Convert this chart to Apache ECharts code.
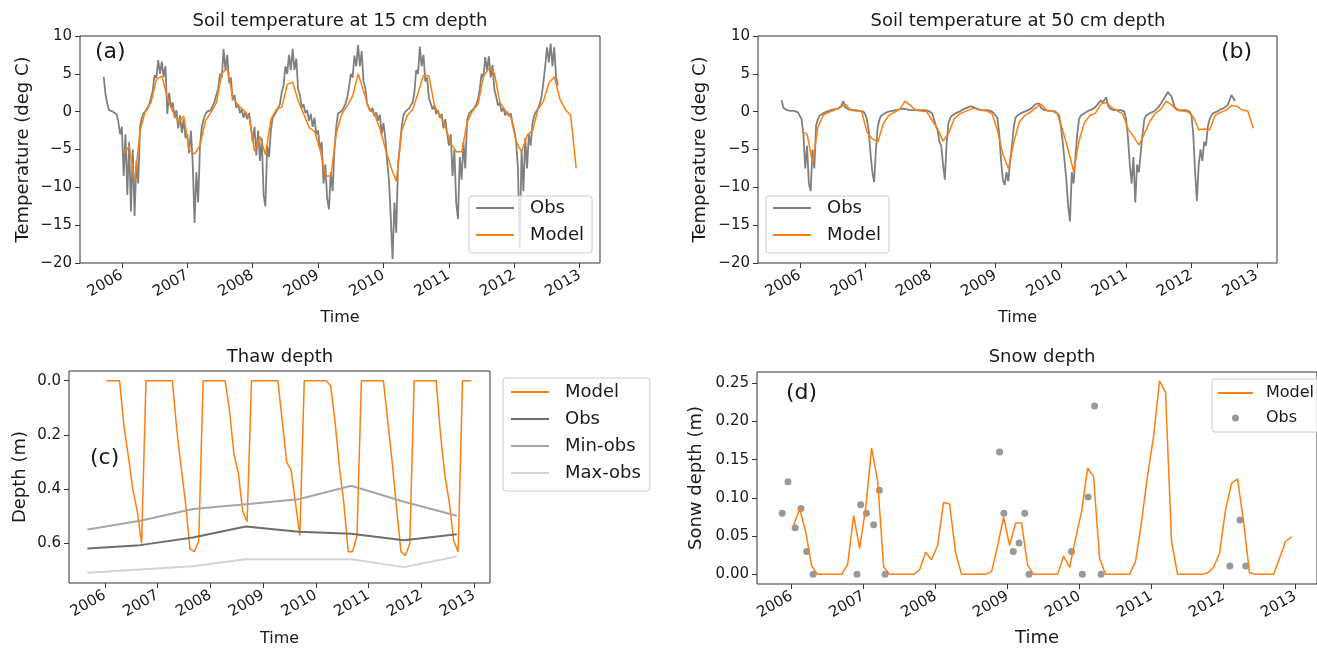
<!DOCTYPE html>
<html>
<head>
<meta charset="utf-8">
<title>Soil temperature, thaw depth and snow depth</title>
<script src="https://cdn.jsdelivr.net/npm/echarts@6.0.0/dist/echarts.min.js"></script>
<style>
  html, body { margin: 0; padding: 0; background: #fff; }
  #chart { width: 1317px; height: 648px; }
</style>
</head>
<body>
<div id="chart"></div>
<script>
// observed soil temperature: one value every 1/36 year (~10 days), first one at 2005 + 26/36
const OBS_START = 2005 + 26 / 36;
const OBS_STEP = 1 / 36;

const obs15 = [
  4.6, 2.3, 1.0, 0.2, 0.1, 0.0, 0.0, -0.3, -1.2, -3.0,
  -2.0, -8.5, -3.0, -11.0, -4.0, -13.2, -5.0, -13.8, -6.5, -9.5, -2.0, -0.8, -0.2, 0.0, 0.3, 0.9, 1.8,
  2.8, 4.8, 4.5, 6.8, 5.0, 6.6, 4.6, 6.0, -0.3, 2.5, 0.5, 1.2, -0.8, 0.2, -2.2, -0.5, -2.8, -1.0, -3.5,
  -3.0, -5.5, -2.5, -6.8, -14.7, -8.0, -12.0, -4.5, -2.0, -1.0, -0.3, 0.0, 0.0, 0.2, 0.8, 1.3, 2.2,
  3.0, 5.0, 4.5, 8.3, 5.5, 7.5, 3.8, 4.5, 1.5, 2.2, 0.5, 1.0, -0.2, 0.3, -0.8, 0.0, -1.0, -0.2, -2.0,
  -4.0, -2.0, -5.8, -2.5, -6.5, -3.5, -11.0, -12.5, -4.5, -6.0, -2.5, -0.8, -0.4, 0.0, 0.1, 1.0, 2.6,
  3.5, 6.0, 5.0, 7.5, 5.5, 8.3, 5.5, 7.0, 3.0, 2.2, 0.5, 1.0, -0.2, 0.2, -1.2, -0.3, -2.0, -0.8, -3.0,
  -2.5, -5.0, -4.0, -9.5, -7.0, -11.5, -12.9, -8.0, -10.5, -5.0, -2.0, -0.2, 0.0, 0.1, 0.5, 1.0, 1.8,
  3.2, 5.0, 4.5, 7.4, 6.0, 8.8, 6.0, 8.0, 4.0, 3.2, 1.0, 1.2, 0.0, 0.5, -0.6, -0.1, -1.2, -0.4, -3.0,
  -1.5, -3.5, -6.5, -9.0, -14.0, -19.5, -12.0, -16.0, -7.0, -4.5, -2.0, -0.4, 0.0, 0.2, 0.4, 0.6, 1.2,
  2.5, 5.5, 5.0, 8.6, 6.0, 7.5, 4.0, 4.5, 1.8, 2.0, 0.3, 0.8, -0.3, 0.2, -0.8, -0.3, -2.2, -1.0, -2.8,
  -4.5, -3.0, -8.5, -5.0, -12.0, -14.2, -6.0, -9.0, -4.0, -7.5, -1.2, -0.3, 0.0, 0.1, 0.5, 1.0, 1.6,
  3.0, 5.0, 4.5, 7.2, 5.5, 7.3, 4.5, 6.2, 3.0, 2.0, 0.8, 1.2, 0.0, 0.5, -0.5, 0.0, -0.6, -0.2, -1.5,
  -2.5, -4.0, -7.5, -18.0, -5.0, -10.5, -3.5, -7.5, -3.0, -4.5, -1.5, -0.5, 0.0, 0.4, 1.0, 2.0, 3.8,
  6.0, 8.5, 6.5, 9.0, 6.0, 8.5, 4.5, 3.5
];

const obs50 = [
  1.5, 0.5, 0.3, 0.2, 0.1, 0.1, 0.1, 0.1, 0.0, -0.1,
  -0.2, -1.0, -3.0, -7.5, -4.5, -9.5, -10.5, -5.0, -7.5, -1.8, -1.0, -0.5, -0.3, -0.2, -0.1, 0.0, 0.1, 0.2,
  0.2, 0.3, 0.3, 0.4, 0.5, 0.8, 1.4, 0.6, 0.5, 0.3, 0.2, 0.2, 0.2, 0.2, 0.2, 0.1, 0.1, 0.0,
  -0.3, -1.0, -2.5, -5.5, -8.0, -9.3, -5.0, -2.0, -1.0, -0.5, -0.3, -0.2, -0.1, 0.0, 0.0, 0.1, 0.1, 0.2,
  0.2, 0.3, 0.3, 0.4, 0.3, 0.3, 0.2, 0.2, 0.2, 0.2, 0.2, 0.2, 0.2, 0.2, 0.2, 0.2, 0.1, 0.1,
  0.0, -0.2, -1.0, -1.8, -2.5, -4.0, -4.5, -7.0, -9.0, -4.0, -1.5, -0.8, -0.5, -0.3, -0.2, -0.1, 0.0, 0.2,
  0.3, 0.4, 0.5, 0.6, 0.7, 0.8, 0.6, 0.4, 0.3, 0.3, 0.2, 0.2, 0.2, 0.2, 0.2, 0.1, 0.0, -0.2,
  -0.5, -0.8, -3.0, -6.5, -9.0, -9.7, -8.0, -9.2, -6.5, -4.5, -2.0, -0.8, -0.5, -0.3, -0.2, -0.1, 0.0, 0.1,
  0.2, 0.3, 0.5, 0.7, 1.0, 1.2, 1.1, 0.5, 0.3, 0.2, 0.2, 0.1, 0.1, 0.1, 0.1, 0.0, 0.0, -0.5,
  -2.0, -4.0, -6.5, -9.0, -12.5, -14.5, -8.0, -9.5, -6.0, -3.0, -1.0, -0.5, -0.3, -0.2, 0.0, 0.1, 0.2, 0.3,
  0.4, 0.6, 0.9, 1.2, 1.5, 1.2, 1.1, 1.9, 0.8, 0.4, 0.3, 0.2, 0.2, 0.2, 0.2, 0.2, 0.2, 0.0,
  -1.0, -3.5, -7.0, -9.5, -6.0, -12.0, -7.0, -8.0, -5.5, -3.0, -1.0, -0.5, -0.3, -0.2, -0.1, 0.0, 0.2, 0.4,
  0.7, 1.0, 1.4, 1.8, 2.2, 2.6, 2.5, 2.0, 1.2, 0.5, 0.3, 0.2, 0.2, 0.2, 0.2, 0.2, 0.1, 0.0,
  -0.5, -3.0, -8.0, -11.8, -7.0, -5.0, -6.5, -4.0, -4.5, -2.0, -1.0, -0.5, -0.2, -0.1, 0.0, 0.2, 0.3, 0.4,
  0.5, 0.6, 0.9, 1.5, 2.2, 2.0, 1.4
];

// model output: monthly, Jan 2006 .. Dec 2012
const MODEL_START = 2006 + 0.35 / 12;
const MODEL_STEP = 1 / 12;

const model15 = [
  -5.5, -4.6, -9.2, -2.5, 0.2, 1.2, 4.3, 4.7, 1.8, 0.0, -1.4, -0.6,
  -5.0, -5.6, -4.4, -1.2, -0.1, 1.2, 5.1, 5.7, 1.9, 0.8, 0.2, -0.7,
  -5.2, -3.3, -5.7, -1.0, 0.3, 0.6, 3.6, 3.9, 1.4, -0.3, -2.1, -2.6,
  -5.0, -8.5, -8.5, -2.8, -0.3, 0.8, 2.1, 5.0, 2.7, 0.3, -0.3, -2.3,
  -4.9, -7.3, -9.2, -2.5, -0.5, 0.3, 2.5, 4.8, 4.7, 0.8, -0.5, -2.0,
  -4.2, -5.3, -5.3, -1.4, 0.1, 1.0, 4.7, 5.7, 5.1, 1.2, 0.2, -0.7,
  -4.0, -5.3, -3.1, -2.5, 0.3, 1.4, 3.8, 4.6, 1.7, 0.3, -0.5, -7.5
];

const model50 = [
  -2.6, -3.0, -6.8, -2.0, -0.4, -0.1, 0.2, 0.5, 1.0, 0.2, 0.1, 0.1,
  -2.7, -3.6, -4.0, -1.6, -0.5, -0.1, 0.3, 1.4, 0.8, 0.2, 0.1, 0.0,
  -1.2, -2.3, -3.9, -2.9, -1.0, -0.3, 0.0, 0.3, 0.5, 0.2, 0.1, -0.3,
  -2.5, -5.7, -7.5, -4.0, -1.4, -0.5, -0.1, 0.5, 1.0, 0.2, 0.1, -0.3,
  -2.5, -5.1, -7.9, -3.8, -1.4, -0.5, -0.2, 1.0, 1.2, 0.5, 0.1, -0.3,
  -2.3, -3.3, -4.4, -2.9, -1.3, -0.2, 0.3, 1.4, 0.9, 0.2, 0.1, 0.0,
  -0.7, -2.4, -2.3, -2.4, -0.5, -0.1, 0.2, 0.8, 0.7, 0.2, 0.1, -2.2
];

const thawModel = [
  0, 0, 0, 0, 0.17, 0.28, 0.40, 0.48, 0.60, 0, 0, 0,
  0, 0, 0, 0, 0.18, 0.32, 0.45, 0.62, 0.63, 0.59, 0, 0,
  0, 0, 0, 0, 0.11, 0.27, 0.34, 0.48, 0.52, 0, 0, 0,
  0, 0, 0, 0, 0.15, 0.30, 0.33, 0.45, 0.57, 0, 0, 0,
  0, 0, 0, 0.02, 0.15, 0.32, 0.45, 0.63, 0.63, 0.57, 0, 0,
  0, 0, 0, 0, 0.15, 0.30, 0.47, 0.63, 0.645, 0.60, 0, 0,
  0, 0, 0, 0, 0.20, 0.35, 0.45, 0.59, 0.63, 0, 0, 0
];

// yearly end-of-season thaw depth observations
const thawTime = [2005.67, 2006.67, 2007.67, 2008.67, 2009.67, 2010.67, 2011.67, 2012.67];
const thawObs = [0.618, 0.606, 0.578, 0.537, 0.557, 0.564, 0.588, 0.566];
const thawMinObs = [0.548, 0.516, 0.473, 0.455, 0.437, 0.387, 0.446, 0.498];
const thawMaxObs = [0.708, 0.696, 0.684, 0.658, 0.658, 0.658, 0.687, 0.648];

const snowModel = [
  0.064, 0.086, 0.056, 0.011, 0, 0, 0, 0, 0, 0.013, 0.077, 0.034,
  0.086, 0.165, 0.122, 0.010, 0, 0, 0, 0, 0, 0.006, 0.029, 0.019,
  0.038, 0.094, 0.092, 0.028, 0, 0, 0, 0, 0, 0.004, 0.037, 0.075,
  0.038, 0.067, 0.067, 0.012, 0, 0, 0, 0, 0, 0.024, 0.009, 0.047,
  0.082, 0.139, 0.128, 0.021, 0, 0, 0, 0, 0, 0.017, 0.069, 0.129,
  0.180, 0.253, 0.238, 0.043, 0, 0, 0, 0, 0, 0.002, 0.009, 0.028,
  0.084, 0.119, 0.125, 0.069, 0.002, 0, 0, 0, 0, 0.021, 0.043, 0.049
];

const snowObsTime = [
  2005.87, 2005.95, 2006.05, 2006.13, 2006.21, 2006.30,
  2006.91, 2006.96, 2007.04, 2007.14, 2007.22, 2007.30,
  2008.89, 2008.95, 2009.08, 2009.16, 2009.24, 2009.30,
  2009.89, 2010.04, 2010.12, 2010.21, 2010.30,
  2012.09, 2012.23, 2012.31
];
const snowObs = [
  0.080, 0.121, 0.061, 0.086, 0.030, 0.0,
  0.0, 0.091, 0.080, 0.065, 0.110, 0.0,
  0.160, 0.080, 0.030, 0.041, 0.080, 0.0,
  0.030, 0.0, 0.101, 0.220, 0.0,
  0.011, 0.071, 0.011
];

const yearTicks = [2006, 2007, 2008, 2009, 2010, 2011, 2012, 2013];
const thawTicks = [0, 0.2, 0.4, 0.6];
const snowTicks = [0, 0.05, 0.1, 0.15, 0.2, 0.25];

const ORANGE = '#ff7f0e';
const GREY = '#808080';
const FONT = "'DejaVu Sans', sans-serif";
const INK = '#1a1a1a';

function series(start, step, values) {
  return values.map((v, i) => [start + i * step, v]);
}
function pairs(xs, ys) {
  return xs.map((x, i) => [x, ys[i]]);
}
const minus = v => String(v).replace('-', '\u2212');

function xAxis(gridIndex, min, max, nameGap, nameSize) {
  return {
    type: 'value', gridIndex, min, max,
    name: 'Time', nameLocation: 'middle', nameGap,
    nameTextStyle: { fontFamily: FONT, fontSize: nameSize, color: INK },
    axisLine: { show: false, onZero: false },
    axisTick: { show: true, length: 5, lineStyle: { color: '#333' }, customValues: yearTicks },
    axisLabel: { rotate: 30, margin: 11, fontFamily: FONT, fontSize: 15, color: INK,
      customValues: yearTicks, formatter: v => String(v) },
    splitLine: { show: false }
  };
}

function yAxis(gridIndex, opts) {
  return Object.assign({
    type: 'value', gridIndex,
    nameLocation: 'middle', nameRotate: 90,
    nameTextStyle: { fontFamily: FONT, fontSize: 18, color: INK },
    axisLine: { show: false, onZero: false },
    axisTick: { show: true, length: 5, lineStyle: { color: '#333' } },
    splitLine: { show: false }
  }, opts);
}

// legend entries for line series: hide the marker drawn in the middle of the line sample
const lineItem = name => ({ name, itemStyle: { opacity: 0 } });

function legend(items, left, top, opts) {
  return Object.assign({
    data: items, orient: 'vertical', left, top,
    itemWidth: 38, itemHeight: 8, itemGap: 9,
    padding: [3, 8, 9, 6],
    backgroundColor: 'rgba(255,255,255,0.8)',
    borderColor: '#cccccc', borderWidth: 1, borderRadius: 3,
    formatter: n => n.split('|')[1],
    textStyle: { fontFamily: FONT, fontSize: 18, lineHeight: 18, color: INK, padding: [0, 0, 0, 11] },
    selectedMode: false
  }, opts);
}

function line(name, x, y, data, color, width) {
  return {
    name, type: 'line', xAxisIndex: x, yAxisIndex: y, data,
    symbol: 'none', silent: true,
    lineStyle: { color, width: width || 1.5 }, itemStyle: { color }
  };
}

function text(str, x, y, size, align) {
  return {
    type: 'text', x, y, silent: true,
    style: { text: str, font: size + 'px ' + FONT, fill: INK,
      textAlign: align || 'center', textVerticalAlign: 'middle' }
  };
}

const chart = echarts.init(document.getElementById('chart'), null, { renderer: 'canvas' });

chart.setOption({
  animation: false,
  backgroundColor: '#ffffff',
  grid: [
    { left: 80, top: 36, width: 520, height: 227 },
    { left: 758, top: 36, width: 519, height: 227 },
    { left: 69, top: 371, width: 421, height: 215 },
    { left: 757, top: 372, width: 568, height: 214 }
  ].map(g => Object.assign(g, { show: true, borderColor: '#333', borderWidth: 1, backgroundColor: 'transparent' })),
  xAxis: [
    xAxis(0, 2005.36, 2013.31, 47, 16),
    xAxis(1, 2005.36, 2013.31, 47, 16),
    xAxis(2, 2005.32, 2013.30, 48, 16),
    xAxis(3, 2005.52, 2013.30, 45, 18)
  ],
  yAxis: [
    yAxis(0, { min: -20, max: 10, interval: 5, name: 'Temperature (deg C)', nameGap: 48,
      axisLabel: { fontFamily: FONT, fontSize: 15, color: INK, margin: 8, formatter: minus } }),
    yAxis(1, { min: -20, max: 10, interval: 5, name: 'Temperature (deg C)', nameGap: 49,
      axisLabel: { fontFamily: FONT, fontSize: 15, color: INK, margin: 8, formatter: minus } }),
    yAxis(2, { min: -0.0355, max: 0.7455, inverse: true, name: 'Depth (m)', nameGap: 40,
      axisTick: { show: true, length: 5, lineStyle: { color: '#333' }, customValues: thawTicks },
      axisLabel: { fontFamily: FONT, fontSize: 15, color: INK, margin: 8,
        customValues: thawTicks, formatter: v => v.toFixed(1) } }),
    yAxis(3, { min: -0.0126, max: 0.2646, name: 'Sonw depth (m)', nameGap: 52,
      axisTick: { show: true, length: 5, lineStyle: { color: '#333' }, customValues: snowTicks },
      axisLabel: { fontFamily: FONT, fontSize: 15, color: INK, margin: 8,
        customValues: snowTicks, formatter: v => v.toFixed(2) } })
  ],
  legend: [
    legend([lineItem('a|Obs'), lineItem('a|Model')], 469, 196),
    legend([lineItem('b|Obs'), lineItem('b|Model')], 766, 196),
    legend([lineItem('c|Model'), lineItem('c|Obs'), lineItem('c|Min-obs'), lineItem('c|Max-obs')], 503, 378,
      { padding: [5, 9, 9, 7] }),
    legend([lineItem('d|Model'), 'd|Obs'], 1212, 379,
      { itemWidth: 35, itemHeight: 7, padding: [6, 8, 6, 5],
        textStyle: { fontFamily: FONT, fontSize: 16, lineHeight: 16, color: INK, padding: [0, 0, 0, 8] } })
  ],
  series: [
    line('a|Obs', 0, 0, series(OBS_START, OBS_STEP, obs15), GREY, 1.8),
    line('a|Model', 0, 0, series(MODEL_START, MODEL_STEP, model15), ORANGE),
    line('b|Obs', 1, 1, series(OBS_START, OBS_STEP, obs50), GREY, 1.8),
    line('b|Model', 1, 1, series(MODEL_START, MODEL_STEP, model50), ORANGE),
    line('c|Model', 2, 2, series(MODEL_START, MODEL_STEP, thawModel), ORANGE),
    line('c|Obs', 2, 2, pairs(thawTime, thawObs), '#6e6e6e', 2),
    line('c|Min-obs', 2, 2, pairs(thawTime, thawMinObs), '#a6a6a6', 2),
    line('c|Max-obs', 2, 2, pairs(thawTime, thawMaxObs), '#d3d3d3', 2),
    line('d|Model', 3, 3, series(MODEL_START, MODEL_STEP, snowModel), ORANGE),
    {
      name: 'd|Obs', type: 'scatter', xAxisIndex: 3, yAxisIndex: 3, silent: true,
      data: pairs(snowObsTime, snowObs), symbol: 'circle', symbolSize: 7,
      itemStyle: { color: GREY }
    }
  ],
  graphic: [
    text('Soil temperature at 15 cm depth', 340, 21, 18),
    text('Soil temperature at 50 cm depth', 1018, 21, 18),
    text('Thaw depth', 280, 357, 18),
    text('Snow depth', 1042, 357, 18),
    text('(a)', 95, 52, 22, 'left'),
    text('(b)', 1221, 52, 22, 'left'),
    text('(c)', 90, 458, 22, 'left'),
    text('(d)', 786, 393, 22, 'left')
  ]
});
</script>
</body>
</html>
